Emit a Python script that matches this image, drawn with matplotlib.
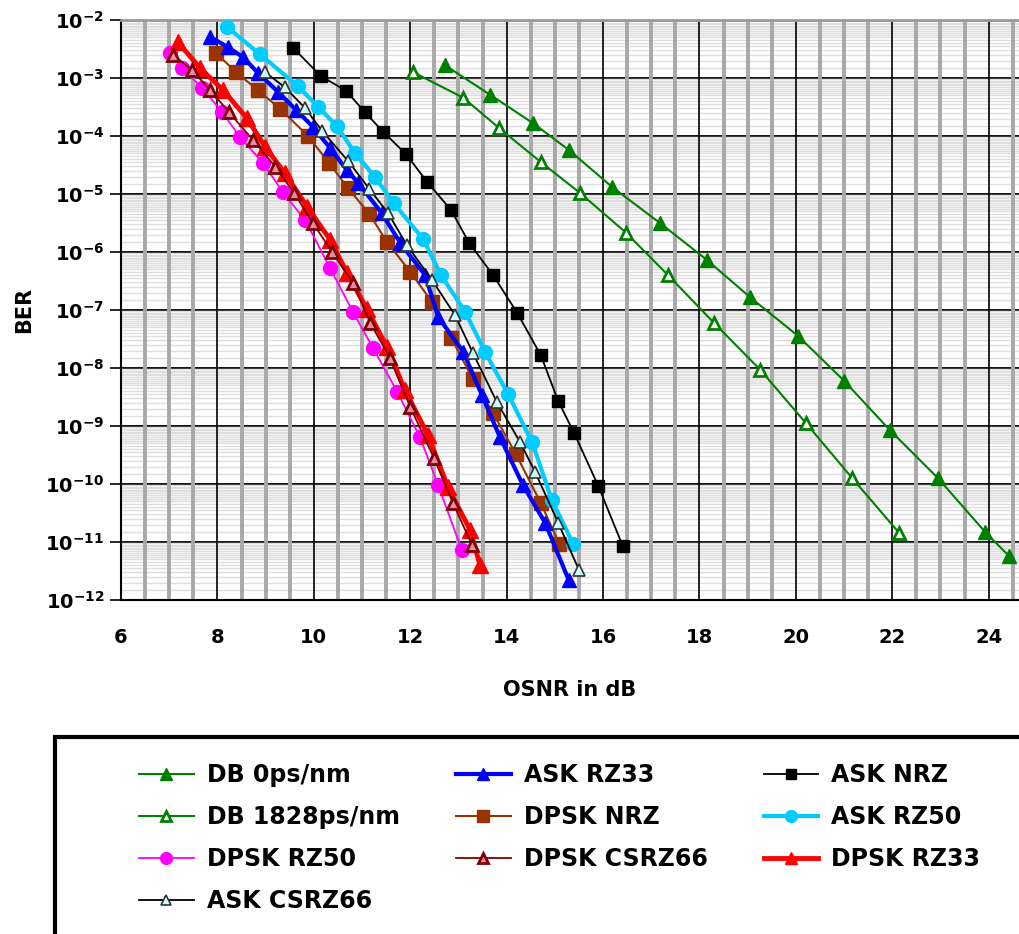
import numpy as np
import matplotlib
matplotlib.use('Agg')
import matplotlib.pyplot as plt
from matplotlib.ticker import MultipleLocator, LogLocator, NullFormatter
from matplotlib.patches import Rectangle

plt.rcParams['font.family'] = ['DejaVu Sans']
plt.rcParams['font.weight'] = 'bold'
plt.rcParams['mathtext.fontset'] = 'custom'
plt.rcParams['mathtext.bf'] = 'DejaVu Sans:bold'
plt.rcParams['mathtext.rm'] = 'DejaVu Sans:bold'
plt.rcParams['mathtext.default'] = 'bf'

# data: OSNR (dB) and log10(BER)
db0_osnr = [12.72, 13.66, 14.55, 15.29, 16.19, 17.18, 18.16, 19.05, 20.05, 21.00, 21.95, 22.95, 23.93, 24.42]
db0_log = [-2.78, -3.29, -3.78, -4.24, -4.88, -5.50, -6.14, -6.78, -7.45, -8.22, -9.07, -9.90, -10.83, -11.24]

db1828_osnr = [12.06, 13.10, 13.84, 14.71, 15.52, 16.48, 17.35, 18.30, 19.26, 20.21, 21.17, 22.14]
db1828_log = [-2.90, -3.34, -3.86, -4.45, -4.98, -5.67, -6.40, -7.22, -8.03, -8.95, -9.90, -10.84]

asknrz_osnr = [9.57, 10.15, 10.67, 11.06, 11.44, 11.91, 12.35, 12.85, 13.22, 13.72, 14.22, 14.71, 15.07, 15.40, 15.90, 16.41]
asknrz_log = [-2.48, -2.97, -3.22, -3.59, -3.93, -4.31, -4.79, -5.28, -5.84, -6.40, -7.05, -7.78, -8.57, -9.12, -10.03, -11.07]

askrz50_osnr = [8.20, 8.88, 9.67, 10.09, 10.48, 10.85, 11.27, 11.66, 12.27, 12.64, 13.14, 13.55, 14.03, 14.53, 14.94, 15.38]
askrz50_log = [-2.12, -2.59, -3.14, -3.50, -3.83, -4.29, -4.71, -5.16, -5.78, -6.40, -7.03, -7.72, -8.45, -9.28, -10.28, -11.03]

askrz33_osnr = [7.85, 8.22, 8.53, 8.84, 9.26, 9.63, 9.98, 10.34, 10.69, 10.92, 11.41, 11.79, 12.31, 12.58, 13.10, 13.49, 13.86, 14.34, 14.80, 15.29]
askrz33_log = [-2.29, -2.47, -2.64, -2.91, -3.24, -3.55, -3.84, -4.21, -4.59, -4.81, -5.33, -5.84, -6.40, -7.12, -7.72, -8.47, -9.19, -10.02, -10.67, -11.66]

askcsrz_osnr = [8.99, 9.40, 9.82, 10.17, 10.71, 11.15, 11.54, 11.93, 12.45, 12.93, 13.30, 13.80, 14.28, 14.59, 15.07, 15.50]
askcsrz_log = [-2.90, -3.16, -3.52, -3.91, -4.43, -4.91, -5.33, -5.88, -6.48, -7.09, -7.74, -8.59, -9.28, -9.79, -10.67, -11.48]

dpsknrz_osnr = [7.97, 8.39, 8.84, 9.30, 9.88, 10.32, 10.71, 11.15, 11.52, 12.00, 12.45, 12.85, 13.30, 13.72, 14.19, 14.71, 15.09]
dpsknrz_log = [-2.57, -2.90, -3.21, -3.53, -4.00, -4.47, -4.90, -5.34, -5.83, -6.34, -6.86, -7.48, -8.19, -8.78, -9.48, -10.33, -11.03]

dpskrz33_osnr = [7.18, 7.64, 8.12, 8.61, 8.99, 9.40, 9.86, 10.34, 10.69, 11.10, 11.52, 11.89, 12.37, 12.78, 13.24, 13.45]
dpskrz33_log = [-2.38, -2.83, -3.21, -3.69, -4.19, -4.64, -5.22, -5.79, -6.36, -6.98, -7.64, -8.38, -9.16, -10.05, -10.79, -11.40]

dpskcsrz_osnr = [7.08, 7.47, 7.85, 8.24, 8.74, 9.20, 9.59, 9.98, 10.38, 10.81, 11.17, 11.58, 12.00, 12.49, 12.89, 13.28]
dpskcsrz_log = [-2.60, -2.86, -3.21, -3.59, -4.07, -4.53, -4.98, -5.50, -6.00, -6.53, -7.22, -7.83, -8.67, -9.55, -10.33, -11.05]

dpskrz50_osnr = [7.02, 7.27, 7.68, 8.10, 8.47, 8.95, 9.36, 9.82, 10.34, 10.81, 11.23, 11.73, 12.20, 12.58, 13.07]
dpskrz50_log = [-2.57, -2.83, -3.17, -3.59, -4.02, -4.47, -4.97, -5.45, -6.28, -7.03, -7.66, -8.41, -9.19, -10.02, -11.14]

ytick_exp = list(range(-12, -1))
ytick_labels = ['$10^{%d}$' % e for e in ytick_exp]

fig = plt.figure(figsize=(10.19, 9.34), dpi=100)
ax = fig.add_axes([121/1019, 1-600/934, 1-121/1019, (600-20)/934])

# DB series (green)
ax.plot(db0_osnr, 10**np.array(db0_log), '-^', color='#008000', lw=1.5, ms=10,
        mfc='#008000', mec='#008000', label='DB 0ps/nm', zorder=3)
ax.plot(db1828_osnr, 10**np.array(db1828_log), '-^', color='#008000', lw=1.5, ms=9,
        mfc='white', mec='#008000', mew=2, label='DB 1828ps/nm', zorder=3)

ax.plot(asknrz_osnr, 10**np.array(asknrz_log), '-s', color='black', lw=1.3, ms=9,
        mfc='black', mec='black', label='ASK NRZ', zorder=3)
ax.plot(dpsknrz_osnr, 10**np.array(dpsknrz_log), '-s', color='#993300', lw=1.5, ms=10,
        mfc='#993300', mec='#993300', label='DPSK NRZ', zorder=3)
ax.plot(askrz33_osnr, 10**np.array(askrz33_log), '-^', color='#0000ff', lw=3, ms=10,
        mfc='#0000ff', mec='#0000ff', label='ASK RZ33', zorder=3)
ax.plot(askcsrz_osnr, 10**np.array(askcsrz_log), '-^', color='black', lw=1.3, ms=9,
        mfc='#ccffff', mec='#333333', mew=1.2, label='ASK CSRZ66', zorder=4)
ax.plot(askrz50_osnr, 10**np.array(askrz50_log), '-o', color='#00ccff', lw=3, ms=10,
        mfc='#00ccff', mec='#00ccff', label='ASK RZ50', zorder=3)

ax.plot(dpskrz50_osnr, 10**np.array(dpskrz50_log), '-o', color='#ff00ff', lw=1.3, ms=10,
        mfc='#ff00ff', mec='#ff00ff', label='DPSK RZ50', zorder=3)
ax.plot(dpskrz33_osnr, 10**np.array(dpskrz33_log), '-^', color='#ff0000', lw=3.5, ms=11,
        mfc='#ff0000', mec='#ff0000', label='DPSK RZ33', zorder=3)
ax.plot(dpskcsrz_osnr, 10**np.array(dpskcsrz_log), '-^', color='#800000', lw=1.3, ms=9,
        mfc='#e68aa8', mec='#800000', mew=2, label='DPSK CSRZ66', zorder=4)

ax.set_yscale('log')
ax.set_xlim(6, 24.63)
ax.set_ylim(1e-12, 1e-2)

ax.xaxis.set_major_locator(MultipleLocator(2))
ax.xaxis.set_minor_locator(MultipleLocator(0.5))
ax.set_yticks([10.0**e for e in ytick_exp])
ax.set_yticklabels(ytick_labels)
ax.yaxis.set_minor_locator(LogLocator(base=10, subs=np.arange(1.5, 10, 0.5), numticks=200))
ax.yaxis.set_minor_formatter(NullFormatter())

ax.set_axisbelow(True)
ax.grid(which='minor', axis='y', color='#dedede', lw=1.0)
ax.grid(which='minor', axis='x', color='#a8a8a8', lw=2.8)
ax.grid(which='major', axis='y', color='black', lw=1.3)
ax.grid(which='major', axis='x', color='black', lw=1.2)
ax.yaxis.set_zorder(0.5)
ax.xaxis.set_zorder(0.6)

ax.tick_params(axis='y', which='major', length=8, width=1.2, labelsize=14, pad=4)
ax.tick_params(axis='y', which='minor', length=0)
ax.tick_params(axis='x', which='both', length=0, labelsize=14, pad=20)
for lab in ax.get_xticklabels() + ax.get_yticklabels():
    lab.set_fontweight('bold')

ax.spines['left'].set_linewidth(1.5)
ax.spines['bottom'].set_linewidth(1.5)
ax.spines['top'].set_color('#999999')
ax.spines['top'].set_linewidth(2)
ax.spines['right'].set_visible(False)

ax.set_xlabel('OSNR in dB', fontsize=15, fontweight='bold', labelpad=24)
ax.set_ylabel('BER', fontsize=15, fontweight='bold', labelpad=8)

# legend box
fig.patches.append(Rectangle((55/1019, -0.05), 1.0, 0.05 + 1-737/934, transform=fig.transFigure,
                             fill=False, edgecolor='black', lw=3))

handles, labels = ax.get_legend_handles_labels()
order = ['DB 0ps/nm', 'DB 1828ps/nm', 'DPSK RZ50', 'ASK CSRZ66',
         'ASK RZ33', 'DPSK NRZ', 'DPSK CSRZ66',
         'ASK NRZ', 'ASK RZ50', 'DPSK RZ33']
hmap = dict(zip(labels, handles))
fig.legend([hmap[k] for k in order], order, ncol=3, loc='upper left',
           bbox_to_anchor=(118/1019, 1-742/934), frameon=False,
           prop={'size': 17, 'weight': 'bold'}, handlelength=2.3, handletextpad=0.55,
           columnspacing=2.4, labelspacing=0.76, markerscale=0.85)

fig.savefig('out.png', dpi=100)
